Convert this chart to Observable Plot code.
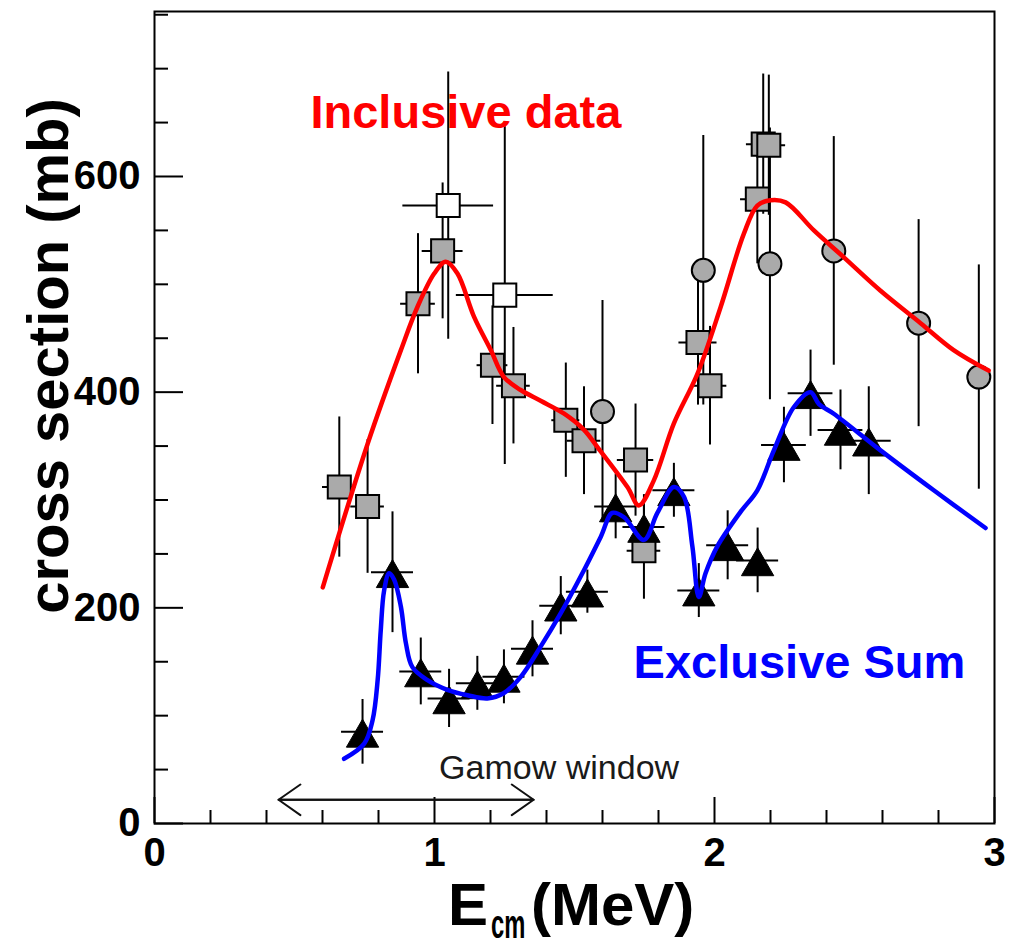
<!DOCTYPE html>
<html><head><meta charset="utf-8">
<script src="https://cdn.jsdelivr.net/npm/d3@7"></script>
<script src="https://cdn.jsdelivr.net/npm/@observablehq/plot@0.6"></script>
<style>body{margin:0;background:#fff;}</style>
</head><body><div id="chart"></div>
<script>
// ---- Inclusive data: grey filled squares ----
const sqX    = [0.660, 0.761, 0.941, 1.029, 1.207, 1.282, 1.469, 1.534, 1.718, 1.748, 1.941, 1.984, 2.153, 2.174, 2.194];
const sqY    = [312, 294, 482, 531, 425, 406, 374, 355, 337, 253, 446, 406, 579, 630, 629];
const sqXErr = [0.06, 0.06, 0.062, 0.073, 0.055, 0.06, 0.05, 0.06, 0.065, 0.06, 0.068, 0.06, 0.06, 0.06, 0.06];
const sqYErr = [65, 62, 65, 63, 55, 54, 53, 50, 52, 45, 58, 55, 60, 65, 65];
// ---- Inclusive data: open squares ----
const osX    = [1.049, 1.251];
const osY    = [573, 490];
const osXErr = [0.162, 0.173];
const osYErr = [124, 157];
// ---- Inclusive data: grey circles ----
const ciX    = [1.600, 1.960, 2.198, 2.426, 2.729, 2.944];
const ciY    = [382, 513, 519, 531, 464, 414];
const ciYErr = [103, 125, 126, 106, 96, 104];
// ---- Exclusive data: black triangles ----
const trX    = [0.743, 0.850, 0.951, 1.052, 1.153, 1.248, 1.350, 1.451, 1.546, 1.647, 1.748, 1.855, 1.944, 2.047, 2.154, 2.248, 2.343, 2.450, 2.551];
const trY    = [85, 233, 141, 116, 130, 136, 162, 202, 215, 294, 275, 309, 216, 258, 244, 351, 399, 365, 355];
const trXErr = [0.075, 0.075, 0.075, 0.075, 0.075, 0.075, 0.075, 0.075, 0.075, 0.075, 0.075, 0.075, 0.075, 0.075, 0.075, 0.08, 0.08, 0.08, 0.08];
const trYErr = [30, 56, 31, 27, 25, 25, 26, 27, 20, 30, 30, 25, 25, 32, 30, 35, 40, 37, 50];
// ---- Inclusive curve (red) ----
const redX = [0.601, 0.761, 0.880, 0.939, 0.999, 1.040, 1.082, 1.141, 1.201, 1.248, 1.308, 1.379, 1.463, 1.534, 1.582, 1.689, 1.730, 1.783, 1.855, 1.939, 2.022, 2.105, 2.153, 2.200, 2.254, 2.355, 2.462, 2.593, 2.736, 2.854, 2.979];
const redY = [219, 352, 439, 479, 510, 521, 510, 470, 439, 414, 402, 392, 380, 365, 349, 312, 295, 318, 371, 417, 479, 547, 573, 578, 576, 550, 525, 494, 464, 439, 420];
// ---- Exclusive sum curve (blue) ----
const blueX = [0.677, 0.749, 0.779, 0.797, 0.808, 0.820, 0.838, 0.856, 0.880, 0.898, 0.921, 0.975, 1.046, 1.118, 1.189, 1.248, 1.308, 1.379, 1.451, 1.522, 1.594, 1.635, 1.677, 1.748, 1.796, 1.855, 1.891, 1.921, 1.944, 1.968, 2.010, 2.093, 2.153, 2.212, 2.283, 2.343, 2.373, 2.426, 2.593, 2.783, 2.968];
const blueY = [60, 74, 96, 133, 179, 216, 232, 226, 201, 167, 145, 133, 124, 119, 116, 121, 136, 164, 195, 229, 266, 288, 284, 263, 288, 312, 303, 257, 210, 232, 257, 289, 309, 346, 386, 400, 389, 380, 346, 309, 274];
// ---- Axis ticks ----
const xMajor = [0, 1, 2, 3];
const xMinor = [0.2, 0.4, 0.6, 0.8, 1.2, 1.4, 1.6, 1.8, 2.2, 2.4, 2.6, 2.8];
const yMajor = [0, 200, 400, 600];
const yMinor = [50, 100, 150, 250, 300, 350, 450, 500, 550, 650, 700, 750];
// ---- Annotations ----
const labels = [
  {text: "Inclusive data", x: 0.557, y: 645, color: "#ff0000"},
  {text: "Exclusive Sum", x: 1.711, y: 135, color: "#0000ff"}
];
const gamowText = [{text: "Gamow window", x: 1.445, y: 41}];
const gamowArrow = [{lo: 0.443, hi: 1.354, y: 22}];

const zip = (xs, ys, exs, eys) => xs.map((x, i) => ({x, y: ys[i], ex: exs ? exs[i] : 0, ey: eys[i]}));
const squares = zip(sqX, sqY, sqXErr, sqYErr);
const openSq = zip(osX, osY, osXErr, osYErr);
const circles = zip(ciX, ciY, null, ciYErr);
const tris = zip(trX, trY, trXErr, trYErr);
const redCurve = redX.map((x, i) => ({x, y: redY[i]}));
const blueCurve = blueX.map((x, i) => ({x, y: blueY[i]}));
const allPts = [...squares, ...openSq, ...circles, ...tris];
const withXErr = allPts.filter(d => d.ex > 0);

const W = 1017, H = 950, mL = 154, mR = 23, mT = 11, mB = 127;
const pw = W - mL - mR, ph = H - mT - mB;
const FONT = "'Liberation Sans', Arial, Helvetica, sans-serif";

const svg = Plot.plot({
  width: W, height: H,
  marginLeft: mL, marginRight: mR, marginTop: mT, marginBottom: mB,
  x: {domain: [0, 3]},
  y: {domain: [0, 753]},
  style: {fontFamily: FONT, background: "#fff", color: "#000"},
  marks: [
    // ticks inside the frame
    Plot.tickY(yMinor, {y: d => d, insetRight: pw - 14, stroke: "#000", strokeWidth: 2}),
    Plot.tickY(yMajor, {y: d => d, insetRight: pw - 29, stroke: "#000", strokeWidth: 2}),
    Plot.tickX(xMinor, {x: d => d, insetTop: ph - 13, stroke: "#000", strokeWidth: 2}),
    Plot.tickX(xMajor, {x: d => d, insetTop: ph - 26, stroke: "#000", strokeWidth: 2}),
    Plot.axisY({ticks: yMajor, tickSize: 0, tickPadding: 14, fontSize: 40, fontWeight: "bold", label: null, tickFormat: d => d}),
    Plot.axisX({ticks: xMajor, tickSize: 0, tickPadding: 14, fontSize: 40, fontWeight: "bold", label: null, tickFormat: d => d}),
    // Gamow window
    Plot.arrow(gamowArrow, {x1: "lo", x2: "hi", y1: "y", y2: "y", stroke: "#111", strokeWidth: 2, headLength: 20, headAngle: 70}),
    Plot.arrow(gamowArrow, {x1: "hi", x2: "lo", y1: "y", y2: "y", stroke: "#111", strokeWidth: 2, headLength: 20, headAngle: 70}),
    Plot.text(gamowText, {x: "x", y: "y", text: "text", fontSize: 34, fill: "#1a1a1a", textAnchor: "middle", lineAnchor: "bottom"}),
    // error bars
    Plot.ruleX(allPts, {x: "x", y1: d => d.y - d.ey, y2: d => d.y + d.ey, stroke: "#000", strokeWidth: 2}),
    Plot.ruleY(withXErr, {y: "y", x1: d => d.x - d.ex, x2: d => d.x + d.ex, stroke: "#000", strokeWidth: 2}),
    // markers
    Plot.dot(squares, {x: "x", y: "y", symbol: "square", r: 13, fill: "#aaaaaa", stroke: "#000", strokeWidth: 2}),
    Plot.dot(openSq, {x: "x", y: "y", symbol: "square", r: 13, fill: "#fff", stroke: "#000", strokeWidth: 2}),
    Plot.dot(circles, {x: "x", y: "y", symbol: "circle", r: 11.5, fill: "#aaaaaa", stroke: "#000", strokeWidth: 2}),
    Plot.dot(tris, {x: "x", y: "y", symbol: "triangle", r: 12, dy: 6, fill: "#000", stroke: "#000", strokeWidth: 1}),
    // curves
    Plot.line(redCurve, {x: "x", y: "y", stroke: "#ff0000", strokeWidth: 4.5, curve: "catmull-rom"}),
    Plot.line(blueCurve, {x: "x", y: "y", stroke: "#0000ff", strokeWidth: 4.5, curve: "catmull-rom"}),
    // labels
    Plot.text(labels, {x: "x", y: "y", text: "text", fill: "color", fontSize: 47, fontWeight: "bold", textAnchor: "start", lineAnchor: "bottom"}),
    Plot.frame({stroke: "#000", strokeWidth: 2})
  ]
});

// axis titles (with subscript)
const s = d3.select(svg);
s.append("text")
  .attr("transform", "translate(68,356) rotate(-90)")
  .attr("text-anchor", "middle")
  .attr("font-family", FONT).attr("font-weight", "bold").attr("font-size", 58)
  .attr("fill", "#000")
  .text("cross section (mb)");
const xtitle = s.append("g")
  .attr("font-family", FONT).attr("font-weight", "bold").attr("fill", "#000")
  .attr("text-anchor", "start");
xtitle.append("text").attr("x", 448).attr("y", 925).attr("font-size", 60).text("E");
xtitle.append("text").attr("transform", "translate(491,938) scale(0.66,1.15)").attr("font-size", 36).text("cm");
xtitle.append("text").attr("x", 531).attr("y", 925).attr("font-size", 60).text("(MeV)");

document.getElementById("chart").appendChild(svg);
</script>
</body></html>
